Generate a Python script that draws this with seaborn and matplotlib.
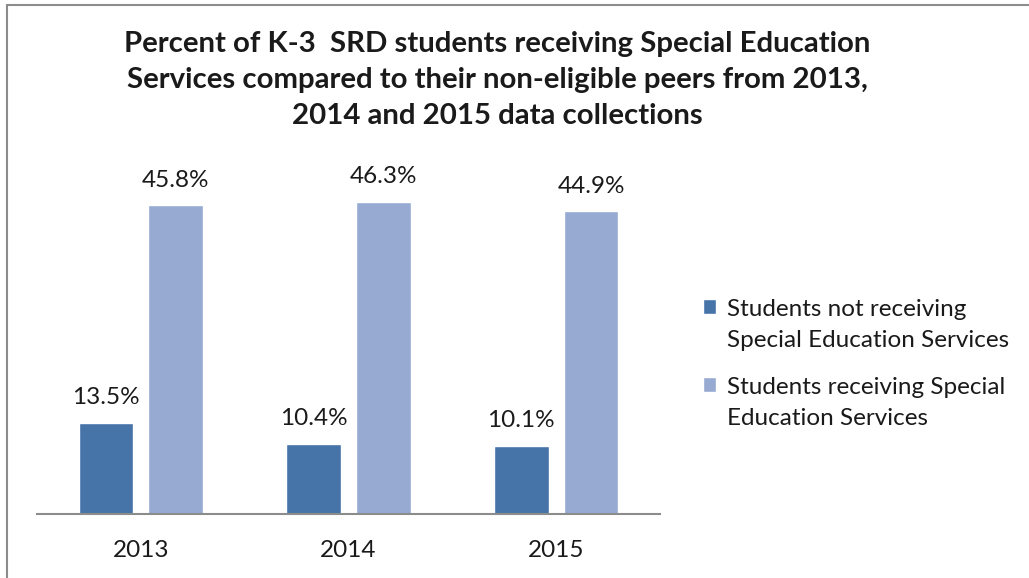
import matplotlib
matplotlib.use("Agg")
import matplotlib.pyplot as plt
import pandas as pd
import seaborn as sns
from matplotlib.patches import Rectangle

# data
years = ["2013", "2014", "2015"]
not_receiving = [13.5, 10.4, 10.1]
receiving = [45.8, 46.3, 44.9]
series_names = ["Students not receiving\nSpecial Education Services",
                "Students receiving Special\nEducation Services"]
colors = ["#4673A8", "#97AAD2"]

df = pd.DataFrame({
    "year": years * 2,
    "value": not_receiving + receiving,
    "group": [series_names[0]] * 3 + [series_names[1]] * 3,
})

sns.set_style("white")
plt.rcParams["font.family"] = ["Lato", "DejaVu Sans"]

fig = plt.figure(figsize=(10.29, 5.78), dpi=100)
ax = fig.add_axes([37 / 1029, 64 / 578, 623 / 1029, 337 / 578])

sns.barplot(data=df, x="year", y="value", hue="group", palette=colors,
            width=0.673, gap=0.216, ax=ax, saturation=1)

for c in ax.containers:
    ax.bar_label(c, fmt="%.1f%%", padding=10.5, fontsize=17.5, color="#1a1a1a")

ax.set_ylim(0, 50)
ax.set_xlim(-0.5, 2.5)
ax.set_xlabel("")
ax.set_ylabel("")
ax.set_yticks([])
ax.tick_params(axis="x", length=0, pad=19, labelsize=17.5, labelcolor="#1a1a1a")
for s in ["top", "right", "left"]:
    ax.spines[s].set_visible(False)
ax.spines["bottom"].set_color("#8c8c8c")
ax.spines["bottom"].set_linewidth(1.5)

leg = ax.legend(loc="center left", bbox_to_anchor=(1.069, 0.445), frameon=False,
                fontsize=17.5, handlelength=0.55, handleheight=0.55,
                handletextpad=0.45, labelspacing=1.1, borderpad=0,
                borderaxespad=0)
# put the colour square next to the first line of each label
for col in leg._legend_handle_box.get_children():
    for item in col.get_children():
        item.align = "top"
for t in leg.get_texts():
    t.set_color("#1a1a1a")
    t.set_linespacing(1.55)

fig.text(0.483, 0.946, "Percent of K-3  SRD students receiving Special Education\n"
         "Services compared to their non-eligible peers from 2013,\n"
         "2014 and 2015 data collections",
         ha="center", va="top", fontsize=21.2, fontweight="bold",
         linespacing=1.46, color="#1a1a1a")

# chart border
fig.patches.append(Rectangle((7 / 1029, -0.1), 1.2, 1 - 5 / 578 + 0.1,
                             transform=fig.transFigure, fill=False,
                             edgecolor="#8c8c8c", linewidth=1.5))

fig.savefig("out.png", dpi=100)
